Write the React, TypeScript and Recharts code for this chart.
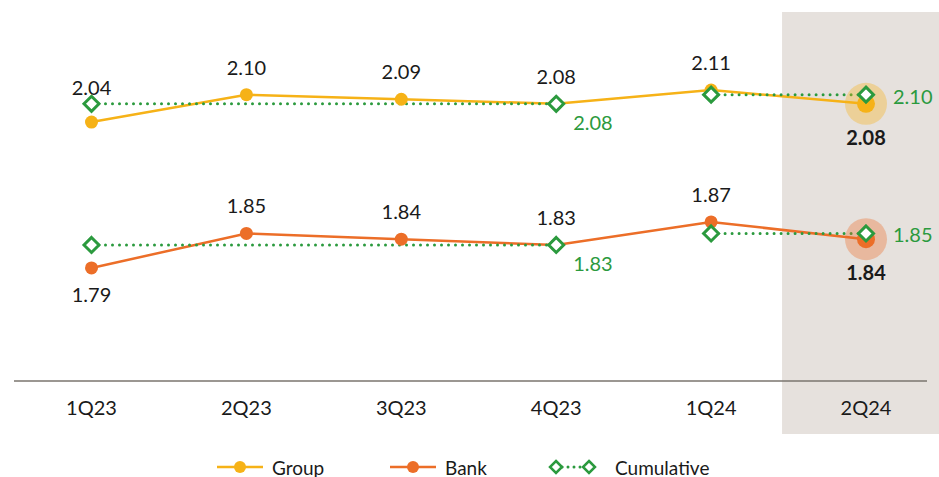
import {
  LabelList,
  Legend,
  Line,
  LineChart,
  ReferenceArea,
  ReferenceLine,
  XAxis,
  YAxis,
} from "recharts";

const quarters = ["1Q23", "2Q23", "3Q23", "4Q23", "1Q24", "2Q24"];
const groupNim = [2.04, 2.1, 2.09, 2.08, 2.11, 2.08];
const bankNim = [1.79, 1.85, 1.84, 1.83, 1.87, 1.84];
const groupCum2023 = [2.08, null, null, 2.08, null, null];
const groupCum2024 = [null, null, null, null, 2.1, 2.1];
const bankCum2023 = [1.83, null, null, 1.83, null, null];
const bankCum2024 = [null, null, null, null, 1.85, 1.85];
const seriesNames = ["Group", "Bank", "Cumulative"];

const GROUP_DOMAIN = [1.473, 2.281];
const BANK_DOMAIN = [1.5935, 2.235];

const W = 939;
const H = 477;
const YELLOW = "#f6b217";
const ORANGE = "#ec6e28";
const GREEN = "#2b9a3e";
const SHADE = "#e6e1dd";
const TEXT = "#1a1a1a";
const FONT = "Lato, 'Open Sans', sans-serif";
const LAST = quarters.length - 1;

const data = quarters.map((q, i) => ({
  q,
  group: groupNim[i],
  bank: bankNim[i],
  gc23: groupCum2023[i],
  gc24: groupCum2024[i],
  bc23: bankCum2023[i],
  bc24: bankCum2024[i],
}));

const fmt = (v: number) => v.toFixed(2);

function makeDot(color: string) {
  return (p: any) => {
    const { cx, cy, index } = p;
    if (cx == null || cy == null) return <g key={`d${index}`} />;
    if (index === LAST) {
      return (
        <g key={`d${index}`}>
          <circle cx={cx} cy={cy} r={21} fill={color} fillOpacity={0.35} />
          <circle cx={cx} cy={cy} r={9} fill={color} />
        </g>
      );
    }
    return <circle key={`d${index}`} cx={cx} cy={cy} r={6.5} fill={color} />;
  };
}

const diamondDot = (p: any) => {
  const { cx, cy, index } = p;
  if (cx == null || cy == null) return <g key={`c${index}`} />;
  const r = 7.5;
  return (
    <polygon
      key={`c${index}`}
      points={`${cx},${cy - r} ${cx + r},${cy} ${cx},${cy + r} ${cx - r},${cy}`}
      fill="#fff"
      stroke={GREEN}
      strokeWidth={3}
    />
  );
};

// black value labels: above the point, the latest one bold & below
function mainLabel(firstBelow: boolean, firstGap: number) {
  return (p: any) => {
    const { x, y, value, index } = p;
    if (value == null) return null;
    let dy = -20;
    let weight = 400;
    if (index === LAST) {
      dy = 41;
      weight = 700;
    } else if (index === 0) {
      dy = firstBelow ? 34 : -firstGap;
    }
    return (
      <text
        key={`l${index}`}
        x={x}
        y={y + dy}
        textAnchor="middle"
        fill={TEXT}
        fontSize={20}
        fontWeight={weight}
        fontFamily={FONT}
      >
        {fmt(value)}
      </text>
    );
  };
}

// green cumulative label only on the last point of each segment
function cumLabel(values: (number | null)[]) {
  let lastIdx = -1;
  values.forEach((v, i) => {
    if (v != null) lastIdx = i;
  });
  return (p: any) => {
    const { x, y, value, index } = p;
    if (value == null || index !== lastIdx) return null;
    const atEnd = index === LAST;
    return (
      <text
        key={`g${index}`}
        x={x + (atEnd ? 27 : 17)}
        y={y + (atEnd ? 9 : 26)}
        textAnchor="start"
        fill={GREEN}
        fontSize={20}
        fontFamily={FONT}
      >
        {fmt(value)}
      </text>
    );
  };
}

function LegendIcon({ name }: { name: string }) {
  if (name === "Cumulative") {
    return (
      <svg width={49} height={16}>
        <line x1={8} y1={8} x2={41} y2={8} stroke={GREEN} strokeWidth={3} strokeDasharray="0 6" strokeLinecap="round" />
        <polygon points="8,2 14,8 8,14 2,8" fill="#fff" stroke={GREEN} strokeWidth={2.5} />
        <polygon points="41,2 47,8 41,14 35,8" fill="#fff" stroke={GREEN} strokeWidth={2.5} />
      </svg>
    );
  }
  const color = name === "Group" ? YELLOW : ORANGE;
  return (
    <svg width={46} height={16}>
      <line x1={0} y1={8} x2={46} y2={8} stroke={color} strokeWidth={2.5} />
      <circle cx={23} cy={8} r={6} fill={color} />
    </svg>
  );
}

const legendLeft = [217, 390, 548];

function renderLegend() {
  return (
    <div style={{ position: "relative", width: W, height: 36 }}>
      {seriesNames.map((name, i) => (
        <div
          key={name}
          style={{
            position: "absolute",
            left: legendLeft[i],
            top: 16,
            height: 20,
            display: "flex",
            alignItems: "center",
            gap: name === "Cumulative" ? 18 : 9,
            fontSize: 19,
            color: TEXT,
            fontFamily: FONT,
            whiteSpace: "nowrap",
          }}
        >
          <LegendIcon name={name} />
          <span>{name}</span>
        </div>
      ))}
    </div>
  );
}

export default function App() {
  return (
    <div style={{ position: "absolute", left: 0, top: 0, width: W, height: H, background: "#fff", fontFamily: FONT }}>
      <LineChart width={W} height={H} data={data} margin={{ top: 12, right: 0, bottom: 0, left: 14 }}>
        {/* shaded latest quarter: from just left of the 1Q24/2Q24 midpoint to the right edge */}
        <ReferenceArea
          x1="1Q24"
          x2="2Q24"
          yAxisId="g"
          ifOverflow="visible"
          shape={(p: any) => {
            const left = p.x + p.width / 2 - 6.5;
            return <rect x={left} y={p.y} width={W - left} height={434 - p.y} fill={SHADE} />;
          }}
        />
        <ReferenceLine
          y={GROUP_DOMAIN[0]}
          yAxisId="g"
          ifOverflow="visible"
          shape={(p: any) => (
            <line x1={p.x1} y1={p.y1} x2={927} y2={p.y2} stroke="#7a756e" strokeWidth={1.5} />
          )}
        />
        <XAxis
          dataKey="q"
          axisLine={false}
          tickLine={false}
          tickMargin={14}
          height={60}
          padding={{ left: 77.5, right: 73 }}
          tick={{ fill: TEXT, fontSize: 20, fontFamily: FONT }}
        />
        <YAxis yAxisId="g" domain={GROUP_DOMAIN} hide allowDataOverflow />
        <YAxis yAxisId="b" domain={BANK_DOMAIN} hide allowDataOverflow />
        <Legend verticalAlign="bottom" height={36} content={renderLegend} wrapperStyle={{ left: 0, width: W }} />

        <Line yAxisId="g" dataKey="group" name="Group" type="linear" stroke={YELLOW} strokeWidth={2.5} dot={makeDot(YELLOW)} activeDot={false} isAnimationActive={false}>
          <LabelList dataKey="group" content={mainLabel(false, 27)} />
        </Line>
        <Line yAxisId="b" dataKey="bank" name="Bank" type="linear" stroke={ORANGE} strokeWidth={2.5} dot={makeDot(ORANGE)} activeDot={false} isAnimationActive={false}>
          <LabelList dataKey="bank" content={mainLabel(true, 0)} />
        </Line>

        <Line yAxisId="g" dataKey="gc23" name="Cumulative" type="linear" stroke={GREEN} strokeWidth={3} strokeDasharray="0 7" strokeLinecap="round" connectNulls dot={diamondDot} activeDot={false} isAnimationActive={false}>
          <LabelList dataKey="gc23" content={cumLabel(groupCum2023)} />
        </Line>
        <Line yAxisId="g" dataKey="gc24" type="linear" stroke={GREEN} strokeWidth={3} strokeDasharray="0 7" strokeLinecap="round" connectNulls dot={diamondDot} activeDot={false} isAnimationActive={false}>
          <LabelList dataKey="gc24" content={cumLabel(groupCum2024)} />
        </Line>
        <Line yAxisId="b" dataKey="bc23" type="linear" stroke={GREEN} strokeWidth={3} strokeDasharray="0 7" strokeLinecap="round" connectNulls dot={diamondDot} activeDot={false} isAnimationActive={false}>
          <LabelList dataKey="bc23" content={cumLabel(bankCum2023)} />
        </Line>
        <Line yAxisId="b" dataKey="bc24" type="linear" stroke={GREEN} strokeWidth={3} strokeDasharray="0 7" strokeLinecap="round" connectNulls dot={diamondDot} activeDot={false} isAnimationActive={false}>
          <LabelList dataKey="bc24" content={cumLabel(bankCum2024)} />
        </Line>
      </LineChart>
    </div>
  );
}
